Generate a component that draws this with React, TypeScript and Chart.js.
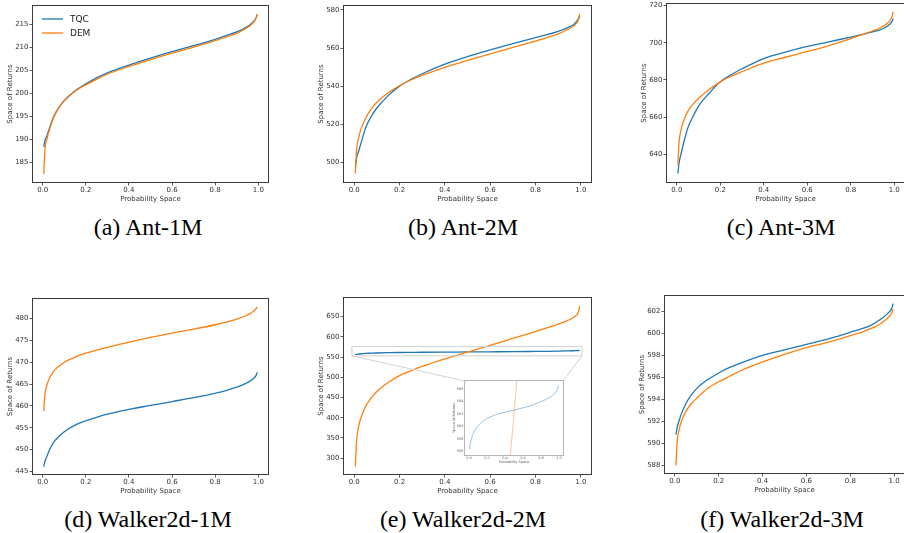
import React, { useEffect, useRef } from "react";
import { Chart, registerables } from "chart.js";
Chart.register(...registerables);

// ---------- data ----------
const PROBS = [0.005, 0.01, 0.02, 0.03, 0.05, 0.075, 0.1, 0.15, 0.2, 0.25, 0.3, 0.4, 0.5, 0.6, 0.7, 0.8, 0.85, 0.9, 0.94, 0.97, 0.99, 0.995];
const X_TICKS = [0, 0.2, 0.4, 0.6, 0.8, 1.0];

const ANT1M_TQC = [188.3, 189.6, 190.8, 192.2, 194.8, 196.9, 198.4, 200.5, 202.0, 203.3, 204.4, 206.1, 207.6, 209.0, 210.3, 211.7, 212.5, 213.3, 214.2, 215.2, 216.4, 217.1];
const ANT1M_DEM = [182.4, 187.5, 190.0, 191.8, 194.6, 196.8, 198.3, 200.4, 201.8, 203.0, 204.1, 205.8, 207.3, 208.7, 210.0, 211.4, 212.2, 213.0, 214.0, 215.0, 216.3, 217.2];

const ANT2M_TQC = [497, 502, 506, 510, 518, 524, 528.5, 535, 540, 543.5, 546.5, 551.5, 555.5, 559, 562.3, 565.5, 567, 568.8, 570.6, 572.5, 575.5, 577];
const ANT2M_DEM = [494, 506, 513, 517.5, 523, 528, 531.5, 536.5, 540.2, 543.2, 545.6, 549.8, 553.5, 557, 560.3, 563.7, 565.5, 567.5, 569.6, 571.8, 575, 578];

const ANT3M_TQC = [629.8, 635, 640.5, 645.5, 654, 660.5, 666, 673, 679, 682.8, 686, 691.5, 695, 698, 700.5, 703, 704.3, 705.8, 707.2, 709, 711.5, 713];
const ANT3M_DEM = [634.3, 646, 653.5, 657.5, 663, 667, 670, 675, 679, 682, 684.5, 689, 692.2, 695.3, 698.5, 702.2, 704.2, 706.3, 708.3, 710.6, 714, 716.6];

const W1M_TQC = [446.1, 447.2, 448.5, 449.8, 451.6, 453, 454.1, 455.6, 456.6, 457.4, 458.1, 459.2, 460.1, 461, 461.9, 462.9, 463.5, 464.3, 465.1, 466, 467, 467.7];
const W1M_DEM = [458.8, 462.5, 464.8, 466.2, 467.9, 469.1, 470, 471.2, 472.1, 472.8, 473.4, 474.6, 475.7, 476.7, 477.6, 478.6, 479.2, 479.9, 480.6, 481.4, 482.3, 482.7];

const W2M_TQC = [556.3, 556.9, 557.6, 558.2, 559.0, 559.6, 560.1, 560.8, 561.3, 561.6, 561.9, 562.3, 562.6, 563.0, 563.4, 564.0, 564.3, 564.7, 565.1, 565.6, 566.2, 566.6];
const W2M_DEM = [279.5, 340, 380, 400, 428, 449, 465, 487, 504, 516, 527, 545.5, 562, 579, 596, 613, 622, 631.5, 640, 649, 662, 676];

const W3M_TQC = [590.8, 591.4, 592.1, 592.7, 593.6, 594.4, 595.0, 595.8, 596.4, 596.9, 597.3, 598.0, 598.5, 599.0, 599.5, 600.1, 600.4, 600.8, 601.3, 601.8, 602.3, 602.7];
const W3M_DEM = [588.0, 590.0, 591.3, 592.0, 592.9, 593.6, 594.1, 595.0, 595.6, 596.1, 596.6, 597.4, 598.1, 598.7, 599.2, 599.8, 600.1, 600.5, 600.9, 601.4, 601.9, 602.2];

const Y_TICKS_ANT1M = [185, 190, 195, 200, 205, 210, 215];
const Y_TICKS_ANT2M = [500, 520, 540, 560, 580];
const Y_TICKS_ANT3M = [640, 660, 680, 700, 720];
const Y_TICKS_W1M = [445, 450, 455, 460, 465, 470, 475, 480];
const Y_TICKS_W2M = [300, 350, 400, 450, 500, 550, 600, 650];
const Y_TICKS_W3M = [588, 590, 592, 594, 596, 598, 600, 602];
const Y_TICKS_INSET = [556, 558, 560, 562, 564, 566];

const SERIES_NAMES = ["TQC", "DEM"];
const CAPTIONS = ["(a) Ant-1M", "(b) Ant-2M", "(c) Ant-3M", "(d) Walker2d-1M", "(e) Walker2d-2M", "(f) Walker2d-3M"];

const ZOOM_X = [-0.01, 1.005];
const ZOOM_Y = [553, 576];

// ---------- style / layout ----------
const FONT = "'DejaVu Sans', sans-serif";
const TQC_COLOR = "#1f77b4";
const DEM_COLOR = "#ff7f0e";
const Y_AXIS_W = 30;
const PAD_TOP = 6;
const PAD_RIGHT = 4;
const X_AXIS_H = 28;

type Rect = { left: number; top: number; right: number; bottom: number };
type PanelCfg = {
  plot: Rect;
  yMin: number;
  yMax: number;
  yTicks: number[];
  tqc: number[];
  dem: number[];
  legend?: boolean;
  inset?: boolean;
  caption: string;
  capX: number;
  capY: number;
};

const INSET_PLOT: Rect = { left: 465, top: 381, right: 563, bottom: 455 };

const PANELS: PanelCfg[] = [
  { plot: { left: 33, top: 6, right: 268, bottom: 182 }, yMin: 180.65, yMax: 218.95, yTicks: Y_TICKS_ANT1M, tqc: ANT1M_TQC, dem: ANT1M_DEM, legend: true, caption: CAPTIONS[0], capX: 148, capY: 227 },
  { plot: { left: 344, top: 6, right: 591, bottom: 182 }, yMin: 489.6, yMax: 582.1, yTicks: Y_TICKS_ANT2M, tqc: ANT2M_TQC, dem: ANT2M_DEM, caption: CAPTIONS[1], capX: 463, capY: 227 },
  { plot: { left: 667, top: 4, right: 904, bottom: 182 }, yMin: 625.2, yMax: 720.8, yTicks: Y_TICKS_ANT3M, tqc: ANT3M_TQC, dem: ANT3M_DEM, caption: CAPTIONS[2], capX: 781, capY: 227 },
  { plot: { left: 33, top: 299, right: 268, bottom: 474 }, yMin: 444.4, yMax: 484.5, yTicks: Y_TICKS_W1M, tqc: W1M_TQC, dem: W1M_DEM, caption: CAPTIONS[3], capX: 148, capY: 519 },
  { plot: { left: 344, top: 298, right: 591, bottom: 474 }, yMin: 261, yMax: 696, yTicks: Y_TICKS_W2M, tqc: W2M_TQC, dem: W2M_DEM, inset: true, caption: CAPTIONS[4], capX: 463, capY: 519 },
  { plot: { left: 665, top: 296, right: 904, bottom: 473 }, yMin: 587.3, yMax: 603.4, yTicks: Y_TICKS_W3M, tqc: W3M_TQC, dem: W3M_DEM, caption: CAPTIONS[5], capX: 782, capY: 519 },
];

function framePlugin(color: string) {
  return {
    id: "frame",
    afterDatasetsDraw(chart: any) {
      const { ctx, chartArea: a } = chart;
      ctx.save();
      ctx.strokeStyle = color;
      ctx.lineWidth = 1;
      const l = Math.round(a.left) - 0.5;
      const t = Math.round(a.top) - 0.5;
      const r = Math.round(a.right) + 0.5;
      const b = Math.round(a.bottom) + 0.5;
      ctx.strokeRect(l, t, r - l, b - t);
      ctx.restore();
    },
  };
}

const legendPlugin = {
  id: "innerLegend",
  afterDatasetsDraw(chart: any) {
    const { ctx, chartArea: a } = chart;
    const colors = [TQC_COLOR, DEM_COLOR];
    ctx.save();
    ctx.font = `9px ${FONT}`;
    ctx.textBaseline = "middle";
    SERIES_NAMES.forEach((name, i) => {
      const y = a.top + 13 + i * 14;
      ctx.strokeStyle = colors[i];
      ctx.lineWidth = 1.3;
      ctx.beginPath();
      ctx.moveTo(a.left + 9, y);
      ctx.lineTo(a.left + 30, y);
      ctx.stroke();
      ctx.fillStyle = "#222";
      ctx.fillText(name, a.left + 37, y + 0.5);
    });
    ctx.restore();
  },
};

function zoomBoxPlugin(canvasLeft: number, canvasTop: number) {
  return {
    id: "zoomBox",
    afterDatasetsDraw(chart: any) {
      const { ctx, scales } = chart;
      const x = scales.x;
      const y = scales.y;
      const l = x.getPixelForValue(ZOOM_X[0]);
      const r = x.getPixelForValue(ZOOM_X[1]);
      const t = y.getPixelForValue(ZOOM_Y[1]);
      const b = y.getPixelForValue(ZOOM_Y[0]);
      ctx.save();
      ctx.strokeStyle = "#d2d2d2";
      ctx.lineWidth = 1;
      ctx.strokeRect(l, t, r - l, b - t);
      ctx.beginPath();
      ctx.moveTo(l, b);
      ctx.lineTo(INSET_PLOT.left - canvasLeft, INSET_PLOT.top - canvasTop);
      ctx.moveTo(r, b);
      ctx.lineTo(INSET_PLOT.right - canvasLeft, INSET_PLOT.top - canvasTop);
      ctx.stroke();
      ctx.restore();
    },
  };
}

const whiteAreaPlugin = {
  id: "whiteArea",
  beforeDatasetsDraw(chart: any) {
    const { ctx, chartArea: a } = chart;
    ctx.save();
    ctx.fillStyle = "#ffffff";
    ctx.fillRect(a.left, a.top, a.right - a.left, a.bottom - a.top);
    ctx.restore();
  },
};

function makeDatasets(tqc: number[], dem: number[], width: number, alpha: number) {
  const c1 = alpha < 1 ? `rgba(31,119,180,${alpha})` : TQC_COLOR;
  const c2 = alpha < 1 ? `rgba(255,127,14,${alpha})` : DEM_COLOR;
  return [
    {
      label: SERIES_NAMES[0],
      data: PROBS.map((x, i) => ({ x, y: tqc[i] })),
      borderColor: c1,
      borderWidth: width,
      pointRadius: 0,
      fill: false,
      cubicInterpolationMode: "monotone" as const,
      order: 1,
    },
    {
      label: SERIES_NAMES[1],
      data: PROBS.map((x, i) => ({ x, y: dem[i] })),
      borderColor: c2,
      borderWidth: width,
      pointRadius: 0,
      fill: false,
      cubicInterpolationMode: "monotone" as const,
      order: 0,
    },
  ];
}

function axisOptions(opts: {
  min: number;
  max: number;
  ticks: number[];
  fmt: (v: number) => string;
  size: number;
  fontSize: number;
  title: string;
  titlePad: any;
  tickLen: number;
  tickPad: number;
  horizontal: boolean;
  color: string;
  tickColor: string;
}) {
  return {
    type: "linear" as const,
    min: opts.min,
    max: opts.max,
    afterBuildTicks: (s: any) => {
      s.ticks = opts.ticks.map((v) => ({ value: v }));
    },
    afterFit: (s: any) => {
      if (opts.horizontal) s.height = opts.size;
      else s.width = opts.size;
    },
    ticks: {
      font: { family: FONT, size: opts.fontSize },
      color: opts.color,
      padding: opts.tickPad,
      maxRotation: 0,
      minRotation: 0,
      autoSkip: false,
      callback: (v: any) => opts.fmt(Number(v)),
    },
    grid: {
      drawOnChartArea: false,
      drawTicks: true,
      tickLength: opts.tickLen,
      color: opts.tickColor,
      tickColor: opts.tickColor,
      lineWidth: 0.8,
    },
    border: { display: false },
    title: {
      display: true,
      text: opts.title,
      font: { family: FONT, size: opts.fontSize },
      color: opts.color,
      padding: opts.titlePad,
    },
  };
}

function Panel({ cfg }: { cfg: PanelCfg }) {
  const ref = useRef<HTMLCanvasElement | null>(null);
  const cLeft = cfg.plot.left - Y_AXIS_W;
  const cTop = cfg.plot.top - PAD_TOP;
  const cW = cfg.plot.right - cfg.plot.left + Y_AXIS_W + PAD_RIGHT;
  const cH = cfg.plot.bottom - cfg.plot.top + PAD_TOP + X_AXIS_H;
  useEffect(() => {
    if (!ref.current) return;
    const plugins: any[] = [framePlugin("#3a3a3a")];
    if (cfg.legend) plugins.push(legendPlugin);
    if (cfg.inset) plugins.push(zoomBoxPlugin(cLeft, cTop));
    const chart = new Chart(ref.current, {
      type: "line",
      data: { datasets: makeDatasets(cfg.tqc, cfg.dem, 1.3, 1) as any },
      options: {
        animation: false,
        responsive: false,
        maintainAspectRatio: false,
        devicePixelRatio: 1,
        layout: { padding: { left: 0, top: PAD_TOP, right: PAD_RIGHT, bottom: 0 } },
        plugins: { legend: { display: false }, tooltip: { enabled: false } },
        scales: {
          x: axisOptions({
            min: -0.045, max: 1.045, ticks: X_TICKS, fmt: (v) => v.toFixed(1),
            size: X_AXIS_H, fontSize: 7, title: "Probability Space",
            titlePad: { top: 0, bottom: 6.8 }, tickLen: 3.5, tickPad: 0.5,
            horizontal: true, color: "#333", tickColor: "#333",
          }) as any,
          y: axisOptions({
            min: cfg.yMin, max: cfg.yMax, ticks: cfg.yTicks, fmt: (v) => String(Math.round(v)),
            size: Y_AXIS_W, fontSize: 7, title: "Space of Returns",
            titlePad: { top: 3.3, bottom: 0 }, tickLen: 3.5, tickPad: 1,
            horizontal: false, color: "#333", tickColor: "#333",
          }) as any,
        },
      },
      plugins,
    });
    return () => chart.destroy();
  }, []);
  return (
    <canvas
      ref={ref}
      width={cW}
      height={cH}
      style={{ position: "absolute", left: cLeft, top: cTop, width: cW, height: cH }}
    />
  );
}

function Inset() {
  const ref = useRef<HTMLCanvasElement | null>(null);
  const yW = 14;
  const padT = 3;
  const padR = 2;
  const xH = 11;
  const cLeft = INSET_PLOT.left - yW;
  const cTop = INSET_PLOT.top - padT;
  const cW = INSET_PLOT.right - INSET_PLOT.left + yW + padR;
  const cH = INSET_PLOT.bottom - INSET_PLOT.top + padT + xH;
  useEffect(() => {
    if (!ref.current) return;
    const chart = new Chart(ref.current, {
      type: "line",
      data: { datasets: makeDatasets(W2M_TQC, W2M_DEM, 0.9, 0.5) as any },
      options: {
        animation: false,
        responsive: false,
        maintainAspectRatio: false,
        devicePixelRatio: 1,
        layout: { padding: { left: 0, top: padT, right: padR, bottom: 0 } },
        plugins: { legend: { display: false }, tooltip: { enabled: false } },
        scales: {
          x: axisOptions({
            min: -0.045, max: 1.045, ticks: X_TICKS, fmt: (v) => v.toFixed(1),
            size: xH, fontSize: 3.5, title: "Probability Space",
            titlePad: { top: 0, bottom: 1.4 }, tickLen: 1, tickPad: 0,
            horizontal: true, color: "#666", tickColor: "#999",
          }) as any,
          y: axisOptions({
            min: 555.4, max: 567.3, ticks: Y_TICKS_INSET, fmt: (v) => String(Math.round(v)),
            size: yW, fontSize: 3.5, title: "Space of Returns",
            titlePad: { top: 1.2, bottom: 0 }, tickLen: 1, tickPad: 0.5,
            horizontal: false, color: "#666", tickColor: "#999",
          }) as any,
        },
      },
      plugins: [whiteAreaPlugin, framePlugin("#b5b5b5")],
    });
    return () => chart.destroy();
  }, []);
  return (
    <canvas
      ref={ref}
      width={cW}
      height={cH}
      style={{ position: "absolute", left: cLeft, top: cTop, width: cW, height: cH }}
    />
  );
}

export default function App() {
  return (
    <div
      style={{
        position: "absolute",
        left: 0,
        top: 0,
        width: 904,
        height: 533,
        overflow: "hidden",
        background: "#ffffff",
      }}
    >
      {PANELS.map((p, i) => (
        <Panel key={i} cfg={p} />
      ))}
      <Inset />
      {PANELS.map((p, i) => (
        <div
          key={"c" + i}
          style={{
            position: "absolute",
            left: p.capX - 150,
            top: p.capY - 13,
            width: 300,
            height: 26,
            lineHeight: "26px",
            textAlign: "center",
            fontFamily: "'Liberation Serif', 'Times New Roman', serif",
            fontSize: 24,
            color: "#000",
            whiteSpace: "nowrap",
          }}
        >
          {p.caption}
        </div>
      ))}
    </div>
  );
}
